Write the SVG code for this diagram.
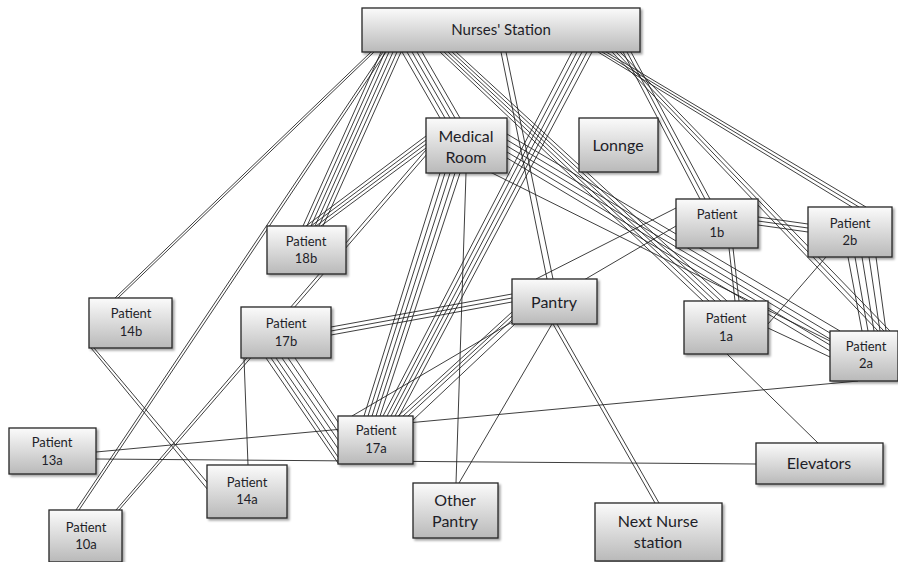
<svg xmlns="http://www.w3.org/2000/svg" width="898" height="562" viewBox="0 0 898 562">
<style>
.conn line{stroke:#1c1c1c;stroke-width:0.85;fill:none}
.box{fill:url(#g);stroke:#262626;stroke-width:1.3;filter:url(#sh)}
text{font-family:Lato,"Open Sans","Liberation Sans",sans-serif;fill:#1e1e28;text-anchor:middle}
.lg{font-size:16px}
.sm{font-size:13px}
</style>
<defs>
<linearGradient id="g" x1="0" y1="0" x2="0" y2="1">
<stop offset="0" stop-color="#fbfbfb"/>
<stop offset="1" stop-color="#b9b9b9"/>
</linearGradient>
<filter id="sh" x="-10%" y="-10%" width="125%" height="130%">
<feDropShadow dx="2" dy="2" stdDeviation="1" flood-color="#000" flood-opacity="0.35"/>
</filter>
</defs>
<rect width="898" height="562" fill="#fff"/>
<g id="connectors" class="conn">
<!-- NS -> 14b -->
<line x1="371" y1="52" x2="115" y2="298"/><line x1="374" y1="52" x2="118" y2="298"/>
<!-- NS -> 10a -->
<line x1="383" y1="52" x2="76" y2="510"/><line x1="386" y1="52" x2="79" y2="510"/>
<!-- NS -> 18b -->
<line x1="381" y1="52" x2="303" y2="226"/><line x1="385" y1="52" x2="307" y2="226"/><line x1="389" y1="52" x2="311" y2="226"/><line x1="393" y1="52" x2="315" y2="226"/><line x1="397" y1="52" x2="319" y2="226"/><line x1="401" y1="52" x2="323" y2="226"/>
<!-- MR -> 18b -->
<line x1="426" y1="136" x2="306" y2="226"/><line x1="426" y1="140" x2="311" y2="226"/><line x1="426" y1="144" x2="316" y2="226"/><line x1="426" y1="148" x2="321" y2="226"/>
<!-- MR -> 10a -->
<line x1="426" y1="150" x2="116" y2="510"/><line x1="428" y1="153" x2="119" y2="510"/>
<!-- NS -> MR -->
<line x1="402" y1="52" x2="440" y2="118"/><line x1="407" y1="52" x2="445" y2="118"/><line x1="412" y1="52" x2="450" y2="118"/><line x1="417" y1="52" x2="455" y2="118"/><line x1="422" y1="52" x2="460" y2="118"/>
<!-- NS -> 1a -->
<line x1="440" y1="52" x2="703" y2="301"/><line x1="444" y1="52" x2="709" y2="301"/><line x1="448" y1="52" x2="715" y2="301"/><line x1="452" y1="52" x2="721" y2="301"/><line x1="456" y1="52" x2="727" y2="301"/>
<!-- NS -> Pantry -->
<line x1="501" y1="52" x2="547" y2="279"/><line x1="506" y1="52" x2="553" y2="279"/>
<!-- NS -> 17a -->
<line x1="572" y1="52" x2="383" y2="416"/><line x1="577" y1="52" x2="387" y2="416"/><line x1="582" y1="52" x2="391" y2="416"/><line x1="587" y1="52" x2="395" y2="416"/><line x1="592" y1="52" x2="399" y2="416"/>
<!-- MR -> 17a -->
<line x1="440" y1="173" x2="364" y2="416"/><line x1="445" y1="173" x2="368" y2="416"/><line x1="450" y1="173" x2="372" y2="416"/><line x1="455" y1="173" x2="376" y2="416"/><line x1="460" y1="173" x2="380" y2="416"/>
<!-- MR -> Other Pantry -->
<line x1="466" y1="173" x2="456" y2="483"/>
<!-- Pantry -> Other Pantry -->
<line x1="552" y1="324" x2="459" y2="483"/>
<!-- Pantry -> Next Nurse -->
<line x1="553" y1="324" x2="655" y2="503"/><line x1="557" y1="324" x2="659" y2="503"/>
<!-- Pantry -> 17a -->
<line x1="512" y1="312" x2="398" y2="416"/><line x1="512" y1="316" x2="403" y2="416"/><line x1="512" y1="320" x2="408" y2="416"/><line x1="515" y1="324" x2="413" y2="420"/>
<!-- Pantry -> 17b -->
<line x1="512" y1="294" x2="331" y2="327"/><line x1="512" y1="298" x2="331" y2="331"/><line x1="512" y1="302" x2="331" y2="335"/>
<!-- 1b -> Pantry, 1b -> 17a -->
<line x1="676" y1="208" x2="536" y2="279"/>
<line x1="676" y1="226" x2="352" y2="416"/>
<!-- 17b -> 17a -->
<line x1="266" y1="358" x2="338" y2="463"/><line x1="271" y1="358" x2="338" y2="457"/><line x1="276" y1="358" x2="339" y2="450"/><line x1="282" y1="358" x2="340" y2="443"/><line x1="288" y1="358" x2="341" y2="436"/><line x1="295" y1="358" x2="342" y2="428"/>
<!-- 17b -> 14a -->
<line x1="244" y1="358" x2="248" y2="465"/>
<!-- 14b -> 14a -->
<line x1="91" y1="348" x2="208" y2="490"/><line x1="94" y1="348" x2="211" y2="487"/>
<!-- 13a -> 2a, 13a -> Elevators -->
<line x1="96" y1="452" x2="858" y2="381"/>
<line x1="96" y1="459" x2="756" y2="464"/>
<!-- 1a -> Elevators, 1a -> 2a, 1a -> 2b -->
<line x1="727" y1="354" x2="818" y2="443"/>
<line x1="768" y1="328" x2="830" y2="357"/>
<line x1="768" y1="324" x2="826" y2="257"/>
<!-- 1b -> 1a -->
<line x1="729" y1="248" x2="735" y2="301"/><line x1="733" y1="248" x2="739" y2="301"/>
<!-- 1b -> 2b -->
<line x1="758" y1="217" x2="808" y2="224"/><line x1="758" y1="221" x2="808" y2="228"/><line x1="758" y1="225" x2="808" y2="232"/>
<!-- 2b -> 2a -->
<line x1="848" y1="257" x2="862" y2="331"/><line x1="855" y1="257" x2="868" y2="331"/><line x1="862" y1="257" x2="874" y2="331"/><line x1="869" y1="257" x2="880" y2="331"/><line x1="876" y1="257" x2="886" y2="331"/>
<!-- NS -> 1b -->
<line x1="623" y1="52" x2="700" y2="199"/><line x1="627" y1="52" x2="705" y2="199"/><line x1="631" y1="52" x2="710" y2="199"/>
<!-- NS -> 2b -->
<line x1="598" y1="52" x2="852" y2="207"/><line x1="602" y1="52" x2="859" y2="207"/><line x1="606" y1="52" x2="866" y2="207"/>
<!-- NS -> 2a -->
<line x1="612" y1="52" x2="878" y2="331"/><line x1="616" y1="52" x2="884" y2="331"/><line x1="620" y1="52" x2="890" y2="331"/>
<!-- MR -> 2a -->
<line x1="507" y1="134" x2="840" y2="331"/><line x1="507" y1="140" x2="830" y2="333"/><line x1="507" y1="146" x2="830" y2="339"/><line x1="507" y1="152" x2="830" y2="345"/><line x1="507" y1="158" x2="830" y2="351"/>
<line x1="490" y1="172" x2="830" y2="341"/>
</g>
<g id="n-nurses"><rect class="box" x="362" y="8" width="278" height="44"/><text class="lg" x="501" y="35" style="font-size:15px">Nurses' Station</text></g>
<g id="n-medical"><rect class="box" x="426" y="118" width="81" height="55"/><text class="lg" x="466" y="142">Medical</text><text class="lg" x="466" y="163">Room</text></g>
<g id="n-lounge"><rect class="box" x="579" y="118" width="79" height="54"/><text class="lg" x="618" y="151">Lonnge</text></g>
<g id="n-18b"><rect class="box" x="267" y="226" width="79" height="48"/><text class="sm" x="306" y="246">Patient</text><text class="sm" x="306" y="263">18b</text></g>
<g id="n-1b"><rect class="box" x="676" y="199" width="82" height="49"/><text class="sm" x="717" y="219">Patient</text><text class="sm" x="717" y="237">1b</text></g>
<g id="n-2b"><rect class="box" x="808" y="207" width="84" height="50"/><text class="sm" x="850" y="228">Patient</text><text class="sm" x="850" y="245">2b</text></g>
<g id="n-1a"><rect class="box" x="684" y="301" width="84" height="53"/><text class="sm" x="726" y="323">Patient</text><text class="sm" x="726" y="341">1a</text></g>
<g id="n-2a"><rect class="box" x="830" y="331" width="68" height="50"/><text class="sm" x="866" y="351">Patient</text><text class="sm" x="866" y="368">2a</text></g>
<g id="n-pantry"><rect class="box" x="512" y="279" width="85" height="45"/><text class="lg" x="554" y="308">Pantry</text></g>
<g id="n-14b"><rect class="box" x="89" y="298" width="83" height="50"/><text class="sm" x="131" y="318">Patient</text><text class="sm" x="131" y="336">14b</text></g>
<g id="n-17b"><rect class="box" x="241" y="307" width="90" height="51"/><text class="sm" x="286" y="328">Patient</text><text class="sm" x="286" y="346">17b</text></g>
<g id="n-17a"><rect class="box" x="338" y="416" width="75" height="48"/><text class="sm" x="376" y="435">Patient</text><text class="sm" x="376" y="453">17a</text></g>
<g id="n-13a"><rect class="box" x="9" y="428" width="87" height="46"/><text class="sm" x="52" y="447">Patient</text><text class="sm" x="52" y="465">13a</text></g>
<g id="n-14a"><rect class="box" x="207" y="465" width="80" height="53"/><text class="sm" x="247" y="487">Patient</text><text class="sm" x="247" y="504">14a</text></g>
<g id="n-10a"><rect class="box" x="49" y="510" width="73" height="52"/><text class="sm" x="86" y="532">Patient</text><text class="sm" x="86" y="549">10a</text></g>
<g id="n-otherpantry"><rect class="box" x="413" y="483" width="85" height="55"/><text class="lg" x="455" y="506">Other</text><text class="lg" x="455" y="527">Pantry</text></g>
<g id="n-nextnurse"><rect class="box" x="595" y="503" width="127" height="58"/><text class="lg" x="658" y="527">Next Nurse</text><text class="lg" x="658" y="548">station</text></g>
<g id="n-elevators"><rect class="box" x="756" y="443" width="127" height="41"/><text class="lg" x="819" y="469">Elevators</text></g>
</svg>
